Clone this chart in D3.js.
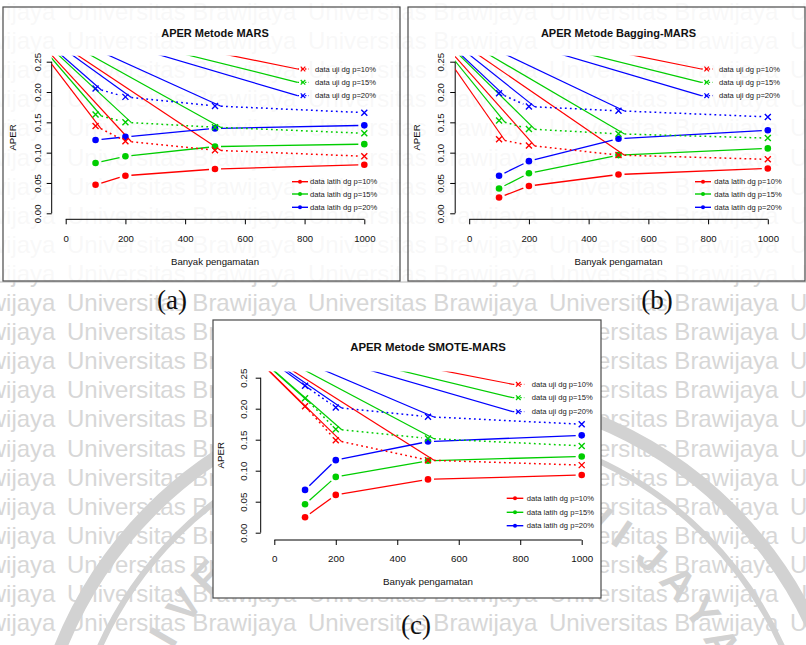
<!DOCTYPE html>
<html><head><meta charset="utf-8">
<script src="https://cdn.jsdelivr.net/npm/d3@7"></script>
<style>body{margin:0;background:#fff}svg{display:block}</style>
</head><body>
<svg id="c" width="806" height="645"></svg>
<script>
// ---------------- data ----------------
const nObs = [100, 200, 500, 1000];
const xTicks = [0, 200, 400, 600, 800, 1000];
const yTicks = [0, 0.05, 0.10, 0.15, 0.20, 0.25];
const pLabels = ["p=10%", "p=15%", "p=20%"];
const seriesColors = ["#ff0000", "#00cd00", "#0000ff"];

const marsLatih = [[0.047, 0.062, 0.073, 0.080], [0.083, 0.094, 0.110, 0.114], [0.121, 0.126, 0.140, 0.145]];
const marsUji = [[0.144, 0.119, 0.104, 0.094], [0.163, 0.150, 0.142, 0.132], [0.206, 0.192, 0.177, 0.166]];
const baggingLatih = [[0.026, 0.045, 0.064, 0.074], [0.041, 0.066, 0.096, 0.107], [0.062, 0.086, 0.123, 0.137]];
const baggingUji = [[0.122, 0.112, 0.096, 0.089], [0.153, 0.139, 0.131, 0.124], [0.198, 0.176, 0.169, 0.159]];
const smoteLatih = [[0.025, 0.061, 0.086, 0.093], [0.046, 0.090, 0.116, 0.123], [0.069, 0.117, 0.147, 0.157]];
const smoteUji = [[0.204, 0.149, 0.117, 0.109], [0.217, 0.167, 0.152, 0.140], [0.237, 0.202, 0.187, 0.175]];

const titles = ["APER Metode MARS", "APER Metode Bagging-MARS", "APER Metode SMOTE-MARS"];
const panelTags = ["(a)", "(b)", "(c)"];
const xLabel = "Banyak pengamatan";
const yLabel = "APER";
const watermarkText = "Universitas Brawijaya";
const logoText = "UNIVERSITAS BRAWIJAYA";

// ---------------- layout ----------------
const svg = d3.select("#c");
const W = 806, H = 645;
const fontSans = "'Liberation Sans', Arial, Helvetica, sans-serif";
const wmColor = "#d7d7d7";

// watermark text rows
const wm = svg.append("g").attr("fill", wmColor)
  .style("font-family", fontSans).style("font-size", "24px");
const rowYs = d3.range(-10, 12).map(k => 303 + 29.1 * k);
const colXs = d3.range(-1, 4).map(j => 67 + 241 * j);
rowYs.forEach(ry => {
  colXs.forEach(cx => {
    wm.append("text").attr("x", cx).attr("y", ry + 8).text(watermarkText);
  });
});

// faint university logo: rings + lettering
const LC = [441, 800];
const logo = svg.append("g");
logo.append("circle").attr("cx", LC[0]).attr("cy", LC[1]).attr("r", 410)
  .attr("fill", "none").attr("stroke", "#d2d2d2").attr("stroke-width", 13);
logo.append("circle").attr("cx", LC[0]).attr("cy", LC[1]).attr("r", 374)
  .attr("fill", "none").attr("stroke", "#d2d2d2").attr("stroke-width", 6);
const chars = logoText.split("");
const lastAng = -29, pitch = 6.7, rT = 322;
chars.forEach((ch, k) => {
  const ang = lastAng - (chars.length - 1 - k) * pitch;
  const rad = ang * Math.PI / 180;
  logo.append("text")
    .attr("transform", `translate(${LC[0] + rT * Math.cos(rad)},${LC[1] + rT * Math.sin(rad)}) rotate(${ang + 90})`)
    .attr("text-anchor", "middle").attr("dominant-baseline", "central")
    .style("font-family", fontSans).style("font-weight", "bold").style("font-size", "42px")
    .attr("fill", "#d2d2d2").text(ch);
});

// top image veil
svg.append("rect").attr("x", 0).attr("y", 0).attr("width", W).attr("height", 282)
  .attr("fill", "#fff").attr("opacity", 0.82);
svg.append("line").attr("x1", 0).attr("x2", W).attr("y1", 282).attr("y2", 282)
  .attr("stroke", "#b8b8b8").attr("stroke-width", 1);

const panels = [
  { frame: [3, 7, 400, 281], xr: [65.7, 364.3], yr: [213.3, 61.7], axisX: 51.7, axisY: 219.3,
    origin: [11, 11], titleY: 33, xTickY: 238.3, xLabY: 261.7, yTickX: 37, yLabX: 12.5, fs: 9.6, tfs: 11,
    uji: { x: 303, ys: [69, 82.3, 95.7], tx: 315 }, latih: { x1: 292, x2: 308, ys: [181.7, 194, 207.3], tx: 310 },
    latihData: marsLatih, ujiData: marsUji, veil: false },
  { frame: [408, 7, 805, 281], xr: [469.2, 767.8], yr: [213.3, 61.7], axisX: 455.2, axisY: 219.3,
    origin: [414.5, 11], titleY: 33, xTickY: 238.3, xLabY: 261.7, yTickX: 440.5, yLabX: 416, fs: 9.6, tfs: 11,
    uji: { x: 706.7, ys: [69, 82.3, 95.7], tx: 719 }, latih: { x1: 695, x2: 711, ys: [181.7, 194, 207.3], tx: 714.3 },
    latihData: baggingLatih, ujiData: baggingUji, veil: false },
  { frame: [213, 320, 601, 598], xr: [274.3, 581.7], yr: [532.7, 377.7], axisX: 260.7, axisY: 540,
    origin: [226, 328.5], titleY: 347, xTickY: 558.3, xLabY: 581.7, yTickX: 243.3, yLabX: 220.5, fs: 9.8, tfs: 11.4,
    uji: { x: 518.3, ys: [384.3, 397.7, 411.7], tx: 531.7 }, latih: { x1: 506.7, x2: 523.3, ys: [498.3, 512.3, 525.7], tx: 526.7 },
    latihData: smoteLatih, ujiData: smoteUji, veil: true }
];
const tagPos = [[172, 300], [657, 300], [416, 625]];
const GAP = 6;

function gapSegs(pts, gap) {
  const segs = [];
  for (let i = 0; i < pts.length - 1; i++) {
    const [x1, y1] = pts[i], [x2, y2] = pts[i + 1];
    const dx = x2 - x1, dy = y2 - y1, L = Math.hypot(dx, dy);
    const ux = dx / L, uy = dy / L;
    segs.push([[x1 + ux * gap, y1 + uy * gap], [x2 - ux * gap, y2 - uy * gap]]);
  }
  return segs;
}
const xMark = s => `M${-s},${-s}L${s},${s}M${-s},${s}L${s},${-s}`;

panels.forEach((P, pi) => {
  const g = svg.append("g");
  const [fx0, fy0, fx1, fy1] = P.frame;
  g.append("rect").attr("x", fx0).attr("y", fy0).attr("width", fx1 - fx0).attr("height", fy1 - fy0)
    .attr("fill", "#fff").attr("fill-opacity", P.veil ? 1 : 0).attr("stroke", "#4a4a4a").attr("stroke-width", 1.2);

  const x = d3.scaleLinear().domain([0, 1000]).range(P.xr);
  const y = d3.scaleLinear().domain([0, 0.25]).range(P.yr);

  // clip region = R plot region (4% padding)
  const cid = "clip" + pi;
  const cx1 = x(1040), cy0 = y(0.26), cy1 = y(-0.01);
  g.append("clipPath").attr("id", cid).append("rect")
    .attr("x", P.axisX).attr("y", cy0).attr("width", cx1 - P.axisX).attr("height", cy1 - cy0);

  g.append("text").attr("x", (P.xr[0] + P.xr[1]) / 2).attr("y", P.titleY).attr("text-anchor", "middle")
    .attr("dominant-baseline", "central").style("font-family", fontSans).style("font-weight", "bold")
    .style("font-size", P.tfs + "px").attr("fill", "#111").text(titles[pi]);

  const xAxis = d3.axisBottom(x).tickValues(xTicks).tickSize(5).tickPadding(6).tickFormat(d3.format("d"));
  const xg = g.append("g").attr("transform", `translate(0,${P.axisY})`).call(xAxis);
  xg.select(".domain").attr("d", `M${x(0)},0H${x(1000)}`).attr("stroke", "#000");
  xg.selectAll(".tick line").attr("stroke", "#000");
  xg.selectAll(".tick text").attr("y", null).attr("dy", null)
    .attr("transform", `translate(0,${P.xTickY - P.axisY})`).attr("dominant-baseline", "central")
    .style("font-family", fontSans).style("font-size", P.fs + "px").attr("fill", "#111");

  const yAxis = d3.axisLeft(y).tickValues(yTicks).tickSize(5).tickFormat(d3.format(".2f"));
  const yg = g.append("g").attr("transform", `translate(${P.axisX},0)`).call(yAxis);
  yg.select(".domain").attr("d", `M0,${y(0)}V${y(0.25)}`).attr("stroke", "#000");
  yg.selectAll(".tick line").attr("stroke", "#000");
  yg.selectAll(".tick text").attr("x", null).attr("dy", null)
    .attr("transform", `translate(${P.yTickX - P.axisX},0) rotate(-90)`).attr("text-anchor", "middle")
    .attr("dominant-baseline", "central")
    .style("font-family", fontSans).style("font-size", P.fs + "px").attr("fill", "#111");

  g.append("text").attr("x", (P.xr[0] + P.xr[1]) / 2).attr("y", P.xLabY).attr("text-anchor", "middle")
    .attr("dominant-baseline", "central").style("font-family", fontSans).style("font-size", P.fs + "px")
    .attr("fill", "#111").text(xLabel);
  g.append("text").attr("transform", `translate(${P.yLabX},${(P.yr[0] + P.yr[1]) / 2}) rotate(-90)`)
    .attr("text-anchor", "middle").attr("dominant-baseline", "central").style("font-family", fontSans)
    .style("font-size", P.fs + "px").attr("fill", "#111").text(yLabel);

  const plot = g.append("g").attr("clip-path", `url(#${cid})`);

  // rendering artefact of the source: solid strokes from device origin to each dotted segment start
  P.ujiData.forEach((vals, si) => {
    const pts = nObs.map((n, i) => [x(n), y(vals[i])]);
    gapSegs(pts, GAP).forEach(sg => {
      plot.append("line").attr("x1", P.origin[0]).attr("y1", P.origin[1])
        .attr("x2", sg[0][0]).attr("y2", sg[0][1]).attr("stroke", seriesColors[si]).attr("stroke-width", 1.2);
    });
  });
  P.uji.ys.forEach((ly, si) => {
    plot.append("line").attr("x1", P.origin[0]).attr("y1", P.origin[1])
      .attr("x2", P.uji.x - 5.5).attr("y2", ly).attr("stroke", seriesColors[si]).attr("stroke-width", 1.2);
  });

  // train (latih): solid, type "b"
  P.latihData.forEach((vals, si) => {
    const pts = nObs.map((n, i) => [x(n), y(vals[i])]);
    gapSegs(pts, GAP).forEach(sg => {
      plot.append("line").attr("x1", sg[0][0]).attr("y1", sg[0][1]).attr("x2", sg[1][0]).attr("y2", sg[1][1])
        .attr("stroke", seriesColors[si]).attr("stroke-width", 1.3);
    });
    plot.selectAll(null).data(vals).enter().append("circle")
      .attr("cx", (d, i) => x(nObs[i])).attr("cy", d => y(d)).attr("r", 3.3).attr("fill", seriesColors[si]);
  });
  // test (uji): dotted, type "b"
  P.ujiData.forEach((vals, si) => {
    const pts = nObs.map((n, i) => [x(n), y(vals[i])]);
    gapSegs(pts, GAP).forEach(sg => {
      plot.append("line").attr("x1", sg[0][0]).attr("y1", sg[0][1]).attr("x2", sg[1][0]).attr("y2", sg[1][1])
        .attr("stroke", seriesColors[si]).attr("stroke-width", 1.5).attr("stroke-dasharray", "1.8,3.2");
    });
    plot.selectAll(null).data(vals).enter().append("path")
      .attr("transform", (d, i) => `translate(${x(nObs[i])},${y(d)})`).attr("d", xMark(3))
      .attr("stroke", seriesColors[si]).attr("stroke-width", 1.4).attr("fill", "none");
  });

  // legends
  const lg = g.append("g").style("font-family", fontSans).style("font-size", "7.6px").attr("fill", "#222");
  P.uji.ys.forEach((ly, si) => {
    lg.append("line").attr("x1", P.uji.x - 5.5).attr("x2", P.uji.x + 6).attr("y1", ly).attr("y2", ly)
      .attr("stroke", seriesColors[si]).attr("stroke-width", 1.3).attr("stroke-dasharray", "1.5,2.2");
    lg.append("path").attr("transform", `translate(${P.uji.x},${ly})`).attr("d", xMark(2.3))
      .attr("stroke", seriesColors[si]).attr("stroke-width", 1.2);
    lg.append("text").attr("x", P.uji.tx).attr("y", ly).attr("dominant-baseline", "central")
      .text("data uji dg " + pLabels[si]);
  });
  P.latih.ys.forEach((ly, si) => {
    lg.append("line").attr("x1", P.latih.x1).attr("x2", P.latih.x2).attr("y1", ly).attr("y2", ly)
      .attr("stroke", seriesColors[si]).attr("stroke-width", 1.4);
    lg.append("circle").attr("cx", (P.latih.x1 + P.latih.x2) / 2).attr("cy", ly).attr("r", 2)
      .attr("fill", seriesColors[si]);
    lg.append("text").attr("x", P.latih.tx).attr("y", ly).attr("dominant-baseline", "central")
      .text("data latih dg " + pLabels[si]);
  });

  svg.append("text").attr("x", tagPos[pi][0]).attr("y", tagPos[pi][1]).attr("text-anchor", "middle")
    .attr("dominant-baseline", "central").style("font-family", "'Liberation Serif', 'Times New Roman', serif")
    .style("font-size", "27px").attr("fill", "#111").text(panelTags[pi]);
});
</script>
</body></html>
